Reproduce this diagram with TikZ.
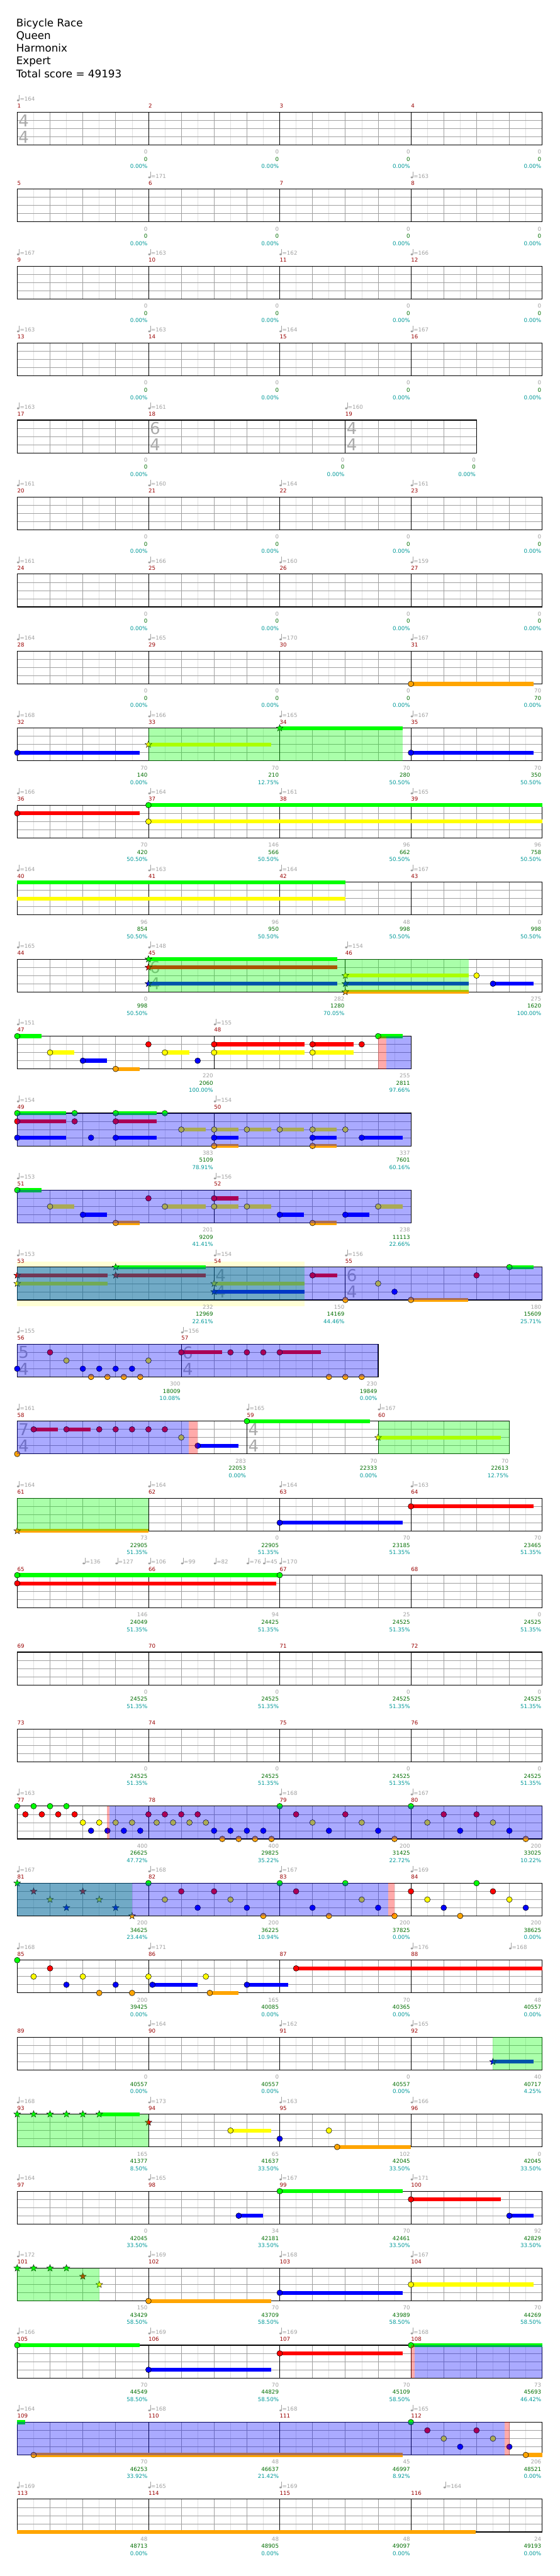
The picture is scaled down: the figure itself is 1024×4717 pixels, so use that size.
\documentclass[tikz,border=0pt]{standalone}
\usepackage{fontspec}
\usetikzlibrary{shapes.geometric}
\newfontfamily\qdv{DejaVu Sans}
\newcommand\qlbl{\qdv\fontsize{10}{12}\selectfont}
\newcommand\qttl{\qdv\fontsize{19.3}{23}\selectfont}
\newcommand\qtsf{\qdv\fontsize{30}{30}\selectfont}
\definecolor{mred}{RGB}{153,0,0}
\definecolor{tgray}{RGB}{160,160,160}
\definecolor{sgreen}{RGB}{0,110,0}
\definecolor{steal}{RGB}{0,153,153}
\definecolor{hgrid}{RGB}{224,224,224}
\definecolor{bgrid}{RGB}{160,160,160}
\definecolor{tsg}{RGB}{170,170,170}
\definecolor{band}{RGB}{255,255,213}
\definecolor{nG}{RGB}{0,255,0}
\definecolor{nR}{RGB}{255,0,0}
\definecolor{nY}{RGB}{255,255,0}
\definecolor{nB}{RGB}{0,0,255}
\definecolor{nO}{RGB}{255,165,0}
\def\qXO{31.5}
\def\qBW{60.05}
\newcommand\qSetRow[1]{\pgfmathsetmacro\qT{205.3+141*(#1)}}
\newcommand\qRw[2]{%
 \qSetRow{#1}%
 \pgfmathsetmacro\qR{\qXO+\qBW*(#2)}%
 \pgfmathtruncatemacro\qnb{#2-1}%
 \fill[white] (\qXO,\qT) rectangle (\qR,\qT+60);
 \foreach \qi in {0,...,\qnb} {\draw[hgrid,line width=0.7pt] ({\qXO+\qBW*(\qi+0.5)},\qT) -- ({\qXO+\qBW*(\qi+0.5)},\qT+60);}
 \foreach \qi in {1,...,\qnb} {\draw[bgrid,line width=0.8pt] ({\qXO+\qBW*\qi},\qT) -- ({\qXO+\qBW*\qi},\qT+60);}
 \foreach \qj in {15,30,45} {\draw[bgrid,line width=0.9pt] (\qXO,\qT+\qj) -- (\qR,\qT+\qj);}
 \draw[line width=1.3pt] (\qXO,\qT) rectangle (\qR,\qT+60);
}
\newcommand\qMl[1]{\draw[line width=0.8pt] ({\qXO+\qBW*(#1)},\qT) -- ({\qXO+\qBW*(#1)},\qT+60);}
\newcommand\qMns[1]{\foreach \qb/\qn in {#1} {\node[anchor=base west,inner sep=0pt,text=mred,font=\qlbl] at ({\qXO+\qBW*\qb},\qT-7.6) {\qn};}}
\newcommand\qTp[2]{%
 \fill[tgray] ({\qXO+\qBW*(#1)+1.7},\qT-21.5) ellipse [x radius=2.3pt,y radius=1.7pt];
 \draw[tgray,line width=0.7pt] ({\qXO+\qBW*(#1)+3.7},\qT-21.5) -- ({\qXO+\qBW*(#1)+3.7},\qT-31.8);
 \node[anchor=base west,inner sep=0pt,text=tgray,font=\qlbl] at ({\qXO+\qBW*(#1)+4.6},\qT-20.3) {=#2};}
\newcommand\qTps[1]{\foreach \qb/\qv in {#1} {\qTp{\qb}{\qv}}}
\newcommand\qSc[4]{%
 \node[anchor=base east,inner sep=0pt,text=tgray,font=\qlbl] at ({\qXO+\qBW*(#1)-1.5},\qT+76.4) {#2};
 \node[anchor=base east,inner sep=0pt,text=sgreen,font=\qlbl] at ({\qXO+\qBW*(#1)-1.5},\qT+89.7) {#3};
 \node[anchor=base east,inner sep=0pt,text=steal,font=\qlbl] at ({\qXO+\qBW*(#1)-1.5},\qT+103) {#4};}
\newcommand\qScs[1]{\foreach \qb/\qg/\qs/\qp in {#1} {\qSc{\qb}{\qg}{\qs}{\qp}}}
\newcommand\qZ[1]{\foreach \qb in {#1} {\qSc{\qb}{0}{0}{0.00\%}}}
\newcommand\qTs[3]{%
 \node[text=tsg,font=\qtsf,inner sep=0pt] at ({\qXO+\qBW*(#1)+12},\qT+15.3) {#2};
 \node[text=tsg,font=\qtsf,inner sep=0pt] at ({\qXO+\qBW*(#1)+12},\qT+45.3) {#3};}
\newcommand\qNt[3]{\filldraw[fill=#1,draw=black,line width=0.6pt] ({\qXO+\qBW*(#3)},{\qT+15*(#2-1)}) circle [radius=5.2pt];}
\newcommand\qNs[3]{\foreach \qb in {#3} {\qNt{#1}{#2}{\qb}}}
\newcommand\qSu[4]{\fill[#1] ({\qXO+\qBW*(#3)},{\qT+15*(#2-1)-3.6}) rectangle ({\qXO+\qBW*(#4)},{\qT+15*(#2-1)+3.6});}
\newcommand\qSt[3]{\node[star,star points=5,star point ratio=2.4,minimum size=13pt,inner sep=0pt,fill=#1,draw=black,line width=0.5pt] at ({\qXO+\qBW*(#3)},{\qT+15*(#2-1)}) {};}
\newcommand\qSs[3]{\foreach \qb in {#3} {\qSt{#1}{#2}{\qb}}}
\newcommand\qOv[3]{\fill[#1,fill opacity=0.3333] ({\qXO+\qBW*(#2)},\qT) rectangle ({\qXO+\qBW*(#3)},\qT+60);}
\newcommand\qFour{\qMl{4}\qMl{8}\qMl{12}}
\begin{document}
\begin{tikzpicture}[x=1pt,y=-1pt]
\useasboundingbox (0,0) rectangle (1024,4717);
\fill[white] (0,0) rectangle (1024,4717);
\node[anchor=base west,inner sep=0pt,font=\qttl] (t1) at (29.5,48.7) {Bicycle Race};
\node[anchor=base west,inner sep=0pt,font=\qttl] (t2) at (29.5,72) {Queen};
\node[anchor=base west,inner sep=0pt,font=\qttl] (t3) at (29.5,95.3) {Harmonix};
\node[anchor=base west,inner sep=0pt,font=\qttl] (t4) at (29.5,118.6) {Expert};
\node[anchor=base west,inner sep=0pt,font=\qttl] (t5) at (29.5,142) {Total score = 49193};
% row 0
\qRw{0}{16}\qFour\qTs{0}{4}{4}
\qMns{0/1,4/2,8/3,12/4}\qTps{0/164}\qZ{4,8,12,16}
% row 1
\qRw{1}{16}\qFour
\qMns{0/5,4/6,8/7,12/8}\qTps{4/171,12/163}\qZ{4,8,12,16}
% row 2
\qRw{2}{16}\qFour
\qMns{0/9,4/10,8/11,12/12}\qTps{0/167,4/163,8/162,12/166}\qZ{4,8,12,16}
% row 3
\qRw{3}{16}\qFour
\qMns{0/13,4/14,8/15,12/16}\qTps{0/163,4/163,8/164,12/167}\qZ{4,8,12,16}
% row 4
\qRw{4}{14}\qMl{4}\qMl{10}\qTs{4}{6}{4}\qTs{10}{4}{4}
\qMns{0/17,4/18,10/19}\qTps{0/163,4/161,10/160}\qZ{4,10,14}
% row 5
\qRw{5}{16}\qFour
\qMns{0/20,4/21,8/22,12/23}\qTps{0/161,4/160,8/164,12/161}\qZ{4,8,12,16}
% row 6
\qRw{6}{16}\qFour
\qMns{0/24,4/25,8/26,12/27}\qTps{0/161,4/166,8/160,12/159}\qZ{4,8,12,16}
% row 7
\qRw{7}{16}\qFour
\qSu{nO}{5}{12}{15.74}\qNt{nO}{5}{12}
\qMns{0/28,4/29,8/30,12/31}\qTps{0/164,4/165,8/170,12/167}\qZ{4,8,12}\qSc{16}{70}{70}{0.00\%}
% row 8
\qRw{8}{16}\qFour
\qSu{nB}{4}{0}{3.74}\qSu{nY}{3}{4}{7.74}\qSu{nG}{1}{8}{11.75}\qSu{nB}{4}{12}{15.74}
\qNt{nB}{4}{0}\qSt{nY}{3}{4}\qSt{nG}{1}{8}\qNt{nB}{4}{12}
\qOv{nG}{4}{11.75}
\qMns{0/32,4/33,8/34,12/35}\qTps{0/168,4/166,8/165,12/167}
\qScs{4/70/140/0.00\%,8/70/210/12.75\%,12/70/280/50.50\%,16/70/350/50.50\%}
% row 9
\qRw{9}{16}\qFour
\qSu{nR}{2}{0}{3.74}\qSu{nG}{1}{4}{16}\qSu{nY}{3}{4}{16}
\qNt{nR}{2}{0}\qNt{nG}{1}{4}\qNt{nY}{3}{4}
\qMns{0/36,4/37,8/38,12/39}\qTps{0/166,4/164,8/161,12/165}
\qScs{4/70/420/50.50\%,8/146/566/50.50\%,12/96/662/50.50\%,16/96/758/50.50\%}
% row 10
\qRw{10}{16}\qFour
\qSu{nG}{1}{0}{10}\qSu{nY}{3}{0}{10}
\qMns{0/40,4/41,8/42,12/43}\qTps{0/164,4/163,8/164,12/167}
\qScs{4/96/854/50.50\%,8/96/950/50.50\%,12/48/998/50.50\%,16/0/998/50.50\%}
% row 11
\qRw{11}{16}\qMl{4}\qMl{10}\qTs{4}{6}{4}
\qSu{nG}{1}{4}{9.75}\qSu{nR}{2}{4}{9.75}\qSu{nB}{4}{4}{9.75}
\qSu{nY}{3}{10}{13.76}\qSu{nB}{4}{10}{13.76}\qSu{nO}{5}{10}{13.76}\qSu{nB}{4}{14.5}{15.74}
\qSt{nG}{1}{4}\qSt{nR}{2}{4}\qSt{nB}{4}{4}\qSt{nY}{3}{10}\qSt{nB}{4}{10}\qSt{nO}{5}{10}
\qNt{nY}{3}{14}\qNt{nB}{4}{14.5}
\qOv{nG}{4}{13.76}
\qMns{0/44,4/45,10/46}\qTps{0/165,4/148,10/154}
\qScs{4/0/998/50.50\%,10/282/1280/70.05\%,16/275/1620/100.00\%}
% row 12
\qRw{12}{12}\qMl{6}
\qSu{nG}{1}{0}{0.74}\qSu{nY}{3}{1}{1.73}\qSu{nB}{4}{2}{2.73}\qSu{nO}{5}{3}{3.74}\qSu{nY}{3}{4.5}{5.24}
\qSu{nR}{2}{6}{8.75}\qSu{nY}{3}{6}{8.75}\qSu{nR}{2}{9}{10.25}\qSu{nY}{3}{9}{10.25}\qSu{nG}{1}{11}{11.75}
\qNs{nG}{1}{0,11}\qNs{nR}{2}{4,6,9,10.5}\qNs{nY}{3}{1,4.5,6,9}\qNs{nB}{4}{2,5.5}\qNt{nO}{5}{3}
\qOv{nR}{11}{11.25}\qOv{nB}{11.25}{12}
\qMns{0/47,6/48}\qTps{0/151,6/155}
\qScs{6/220/2060/100.00\%,12/255/2811/97.66\%}
% row 13
\qRw{13}{12}\qMl{6}
\qSu{nG}{1}{0}{1.49}\qSu{nG}{1}{3}{4.25}\qSu{nR}{2}{0}{1.49}\qSu{nR}{2}{3}{4.25}
\qSu{nY}{3}{5}{5.74}\qSu{nY}{3}{6}{6.74}\qSu{nY}{3}{7}{7.74}\qSu{nY}{3}{8}{8.74}\qSu{nY}{3}{9}{9.74}
\qSu{nB}{4}{0}{1.49}\qSu{nB}{4}{3}{4.25}\qSu{nB}{4}{6}{6.74}\qSu{nB}{4}{9}{9.74}\qSu{nB}{4}{10.5}{11.75}
\qSu{nO}{5}{6}{6.74}\qSu{nO}{5}{9}{9.74}
\qNs{nG}{1}{0,1.75,3,4.5}\qNs{nR}{2}{0,1.75,3}\qNs{nY}{3}{5,6,7,8,9,10}\qNs{nB}{4}{0,2.25,3,6,9,10.5}\qNs{nO}{5}{6,9}
\qOv{nB}{0}{12}
\qMns{0/49,6/50}\qTps{0/154,6/154}
\qScs{6/383/5109/78.91\%,12/337/7601/60.16\%}
% row 14
\qRw{14}{12}\qMl{6}
\qSu{nG}{1}{0}{0.74}\qSu{nR}{2}{6}{6.74}
\qSu{nY}{3}{1}{1.74}\qSu{nY}{3}{4.5}{5.74}\qSu{nY}{3}{6}{6.74}\qSu{nY}{3}{7}{7.74}\qSu{nY}{3}{11}{11.74}
\qSu{nB}{4}{2}{2.74}\qSu{nB}{4}{8}{8.74}\qSu{nB}{4}{10}{10.74}\qSu{nO}{5}{3}{3.74}\qSu{nO}{5}{9}{9.74}
\qNt{nG}{1}{0}\qNs{nR}{2}{4,6}\qNs{nY}{3}{1,4.5,6,7,11}\qNs{nB}{4}{2,8,10}\qNs{nO}{5}{3,9}
\qOv{nB}{0}{12}
\qMns{0/51,6/52}\qTps{0/153,6/156}
\qScs{6/201/9209/41.41\%,12/238/11113/22.66\%}
% row 15
\qSetRow{15}
\fill[band] (\qXO,\qT-10) rectangle ({\qXO+\qBW*8.75},\qT+71.4);
\qRw{15}{16}\qMl{6}\qMl{10}\qTs{6}{4}{4}\qTs{10}{6}{4}
\qSu{nG}{1}{3}{5.75}\qSu{nR}{2}{0}{2.75}\qSu{nR}{2}{3}{5.75}\qSu{nY}{3}{0}{2.75}\qSu{nY}{3}{6}{8.75}\qSu{nB}{4}{6}{8.75}
\qSu{nR}{2}{9}{9.75}\qSu{nO}{5}{12}{13.75}\qSu{nG}{1}{15}{15.74}
\qSt{nG}{1}{3}\qSs{nR}{2}{0,3}\qSs{nY}{3}{0,6}\qSt{nB}{4}{6}
\qNs{nR}{2}{9,14}\qNs{nO}{5}{10,12}\qNt{nY}{3}{11}\qNt{nB}{4}{11.5}\qNt{nG}{1}{15}
\qOv{nG}{0}{8.75}\qOv{nB}{0}{16}
\qMns{0/53,6/54,10/55}\qTps{0/153,6/154,10/156}
\qScs{6/232/12969/22.61\%,10/150/14169/44.46\%,16/180/15609/25.71\%}
% row 16
\qRw{16}{11}\qMl{5}\qTs{0}{5}{4}\qTs{5}{6}{4}
\qSu{nR}{2}{5}{6.24}\qSu{nR}{2}{8}{9.25}
\qNs{nR}{2}{1,5,6.5,7,7.5,8}\qNs{nY}{3}{1.5,4}\qNs{nB}{4}{0,2,2.5,3,3.5}\qNs{nO}{5}{2.25,2.75,3.25,3.75,9.5,10,10.5}
\qOv{nB}{0}{11}
\qMns{0/56,5/57}\qTps{0/155,5/156}
\qScs{5/300/18009/10.08\%,11/230/19849/0.00\%}
% row 17
\qRw{17}{15}\qMl{7}\qMl{11}\qTs{0}{7}{4}\qTs{7}{4}{4}
\qSu{nR}{2}{0.5}{1.24}\qSu{nR}{2}{1.5}{2.24}\qSu{nB}{4}{5.5}{6.74}\qSu{nG}{1}{7}{10.75}\qSu{nY}{3}{11}{14.75}
\qNt{nO}{5}{0}\qNs{nR}{2}{0.5,1.5,2.5,3,3.5,4,4.5}\qNt{nY}{3}{5}\qNt{nB}{4}{5.5}\qNt{nG}{1}{7}\qSt{nY}{3}{11}
\qOv{nB}{0}{5.22}\qOv{nR}{5.22}{5.5}\qOv{nG}{11}{15}
\qMns{0/58,7/59,11/60}\qTps{0/161,7/165,11/167}
\qScs{7/283/22053/0.00\%,11/70/22333/0.00\%,15/70/22613/12.75\%}
% row 18
\qRw{18}{16}\qFour
\qSu{nO}{5}{0}{4}\qSu{nB}{4}{8}{11.75}\qSu{nR}{2}{12}{15.74}
\qSt{nO}{5}{0}\qNt{nB}{4}{8}\qNt{nR}{2}{12}
\qOv{nG}{0}{4}
\qMns{0/61,4/62,8/63,12/64}\qTps{0/164,4/164,8/164,12/163}
\qScs{4/73/22905/51.35\%,8/0/22905/51.35\%,12/70/23185/51.35\%,16/70/23465/51.35\%}
% row 19
\qRw{19}{16}\qFour
\qSu{nG}{1}{0}{8}\qSu{nR}{2}{0}{7.9}
\qNs{nG}{1}{0,8}\qNt{nR}{2}{0}
\qMns{0/65,4/66,8/67,12/68}\qTps{2/136,3/127,4/106,5/99,6/82,7/76,7.5/45,8/170}
\qScs{4/146/24049/51.35\%,8/94/24425/51.35\%,12/25/24525/51.35\%,16/0/24525/51.35\%}
% row 20
\qRw{20}{16}\qFour
\qMns{0/69,4/70,8/71,12/72}
\qScs{4/0/24525/51.35\%,8/0/24525/51.35\%,12/0/24525/51.35\%,16/0/24525/51.35\%}
% row 21
\qRw{21}{16}\qFour
\qMns{0/73,4/74,8/75,12/76}
\qScs{4/0/24525/51.35\%,8/0/24525/51.35\%,12/0/24525/51.35\%,16/0/24525/51.35\%}
% row 22
\qRw{22}{16}\qFour
\qNs{nG}{1}{0,0.5,1,1.5,8,12}
\qNs{nR}{2}{0.25,0.75,1.25,1.75,4,4.5,5,5.5,8.5,10,13,14}
\qNs{nY}{3}{2,2.5,3,3.5,4.25,4.75,5.25,5.75,9,10.5,12.5,14.5}
\qNs{nB}{4}{2.25,2.75,3.25,3.75,6,6.5,7,7.5,9.5,11,13.5,15}
\qNs{nO}{5}{6.25,6.75,7.25,7.75,11.5,15.5}
\qOv{nR}{2.73}{2.82}\qOv{nB}{2.82}{16}
\qMns{0/77,4/78,8/79,12/80}\qTps{0/163,8/168,12/167}
\qScs{4/400/26625/47.72\%,8/400/29825/35.22\%,12/200/31425/22.72\%,16/200/33025/10.22\%}
% row 23
\qRw{23}{16}\qFour
\qSt{nG}{1}{0}\qSs{nR}{2}{0.5,2}\qSs{nY}{3}{1,2.5}\qSs{nB}{4}{1.5,3}\qSt{nO}{5}{3.5}
\qNs{nG}{1}{4,8,10,14}\qNs{nR}{2}{5,6,8.5,12,14.5}\qNs{nY}{3}{4.5,6.5,10.5,12.5,15}
\qNs{nB}{4}{5.5,7,9,11,13,15.5}\qNs{nO}{5}{7.5,9.5,11.5,13.5}
\qOv{nG}{0}{3.5}\qOv{nB}{0}{11.3}\qOv{nR}{11.3}{11.5}
\qMns{0/81,4/82,8/83,12/84}\qTps{0/167,4/168,8/167,12/169}
\qScs{4/200/34625/23.44\%,8/200/36225/10.94\%,12/200/37825/0.00\%,16/200/38625/0.00\%}
% row 24
\qRw{24}{16}\qFour
\qSu{nR}{2}{8.5}{16}\qSu{nB}{4}{4.12}{5.5}\qSu{nB}{4}{7}{8.25}\qSu{nO}{5}{5.87}{6.75}
\qNt{nG}{1}{0}\qNs{nR}{2}{1,8.5}\qNs{nY}{3}{0.5,2,4,5.75}\qNs{nB}{4}{1.5,3,4.12,7}\qNs{nO}{5}{2.5,3.5,5.87}
\qMns{0/85,4/86,8/87,12/88}\qTps{0/168,4/171,12/176,15/168}
\qScs{4/200/39425/0.00\%,8/165/40085/0.00\%,12/70/40365/0.00\%,16/48/40557/0.00\%}
% row 25
\qRw{25}{16}\qFour
\qSu{nB}{4}{14.5}{15.74}\qSt{nB}{4}{14.5}
\qOv{nG}{14.5}{16}
\qMns{0/89,4/90,8/91,12/92}\qTps{4/164,8/162,12/165}
\qScs{4/0/40557/0.00\%,8/0/40557/0.00\%,12/0/40557/0.00\%,16/40/40717/4.25\%}
% row 26
\qRw{26}{16}\qFour
\qSu{nG}{1}{2.5}{3.74}\qSu{nY}{3}{6.5}{7.75}\qSu{nO}{5}{9.75}{12}
\qSs{nG}{1}{0,0.5,1,1.5,2,2.5}\qSt{nR}{2}{4}\qNs{nY}{3}{6.5,9.5}\qNt{nB}{4}{8}\qNt{nO}{5}{9.75}
\qOv{nG}{0}{4}
\qMns{0/93,4/94,8/95,12/96}\qTps{0/168,4/173,8/163,12/166}
\qScs{4/165/41377/8.50\%,8/65/41637/33.50\%,12/102/42045/33.50\%,16/0/42045/33.50\%}
% row 27
\qRw{27}{16}\qFour
\qSu{nB}{4}{6.75}{7.5}\qSu{nB}{4}{15}{15.74}\qSu{nG}{1}{8}{11.75}\qSu{nR}{2}{12}{14.75}
\qNs{nB}{4}{6.75,15}\qNt{nG}{1}{8}\qNt{nR}{2}{12}
\qMns{0/97,4/98,8/99,12/100}\qTps{0/164,4/165,8/167,12/171}
\qScs{4/0/42045/33.50\%,8/34/42181/33.50\%,12/70/42461/33.50\%,16/92/42829/33.50\%}
% row 28
\qRw{28}{16}\qFour
\qSu{nO}{5}{4}{7.75}\qSu{nB}{4}{8}{11.75}\qSu{nY}{3}{12}{15.74}
\qSs{nG}{1}{0,0.5,1,1.5}\qSt{nR}{2}{2}\qSt{nY}{3}{2.5}
\qNt{nO}{5}{4}\qNt{nB}{4}{8}\qNt{nY}{3}{12}
\qOv{nG}{0}{2.5}
\qMns{0/101,4/102,8/103,12/104}\qTps{0/172,4/169,8/168,12/167}
\qScs{4/150/43429/58.50\%,8/70/43709/58.50\%,12/70/43989/58.50\%,16/70/44269/58.50\%}
% row 29
\qRw{29}{16}\qFour
\qSu{nG}{1}{0}{3.74}\qSu{nB}{4}{4}{7.75}\qSu{nR}{2}{8}{11.75}\qSu{nG}{1}{12}{16}
\qNs{nG}{1}{0,12}\qNt{nB}{4}{4}\qNt{nR}{2}{8}
\qOv{nR}{12}{12.12}\qOv{nB}{12.12}{16}
\qMns{0/105,4/106,8/107,12/108}\qTps{0/166,4/169,8/169,12/168}
\qScs{4/70/44549/58.50\%,8/70/44829/58.50\%,12/70/45109/58.50\%,16/73/45693/46.42\%}
% row 30
\qRw{30}{16}\qFour
\qSu{nG}{1}{0}{0.24}\qSu{nO}{5}{0.5}{11.75}\qSu{nO}{5}{15.5}{16}
\qNs{nO}{5}{0.5,15.5}\qNt{nG}{1}{12}\qNs{nR}{2}{12.5,14}\qNs{nY}{3}{13,14.5}\qNs{nB}{4}{13.5,15}
\qOv{nB}{0}{14.85}\qOv{nR}{14.85}{15}
\qMns{0/109,4/110,8/111,12/112}\qTps{0/164,4/168,8/168,12/165}
\qScs{4/70/46253/33.92\%,8/48/46637/21.42\%,12/45/46997/8.92\%,16/206/48521/0.00\%}
% row 31
\qRw{31}{16}\qFour
\qSu{nO}{5}{0}{13.98}
\qMns{0/113,4/114,8/115,12/116}\qTps{0/169,4/165,8/169,13/164}
\qScs{4/48/48713/0.00\%,8/48/48905/0.00\%,12/48/49097/0.00\%,16/24/49193/0.00\%}
\end{tikzpicture}
\end{document}
